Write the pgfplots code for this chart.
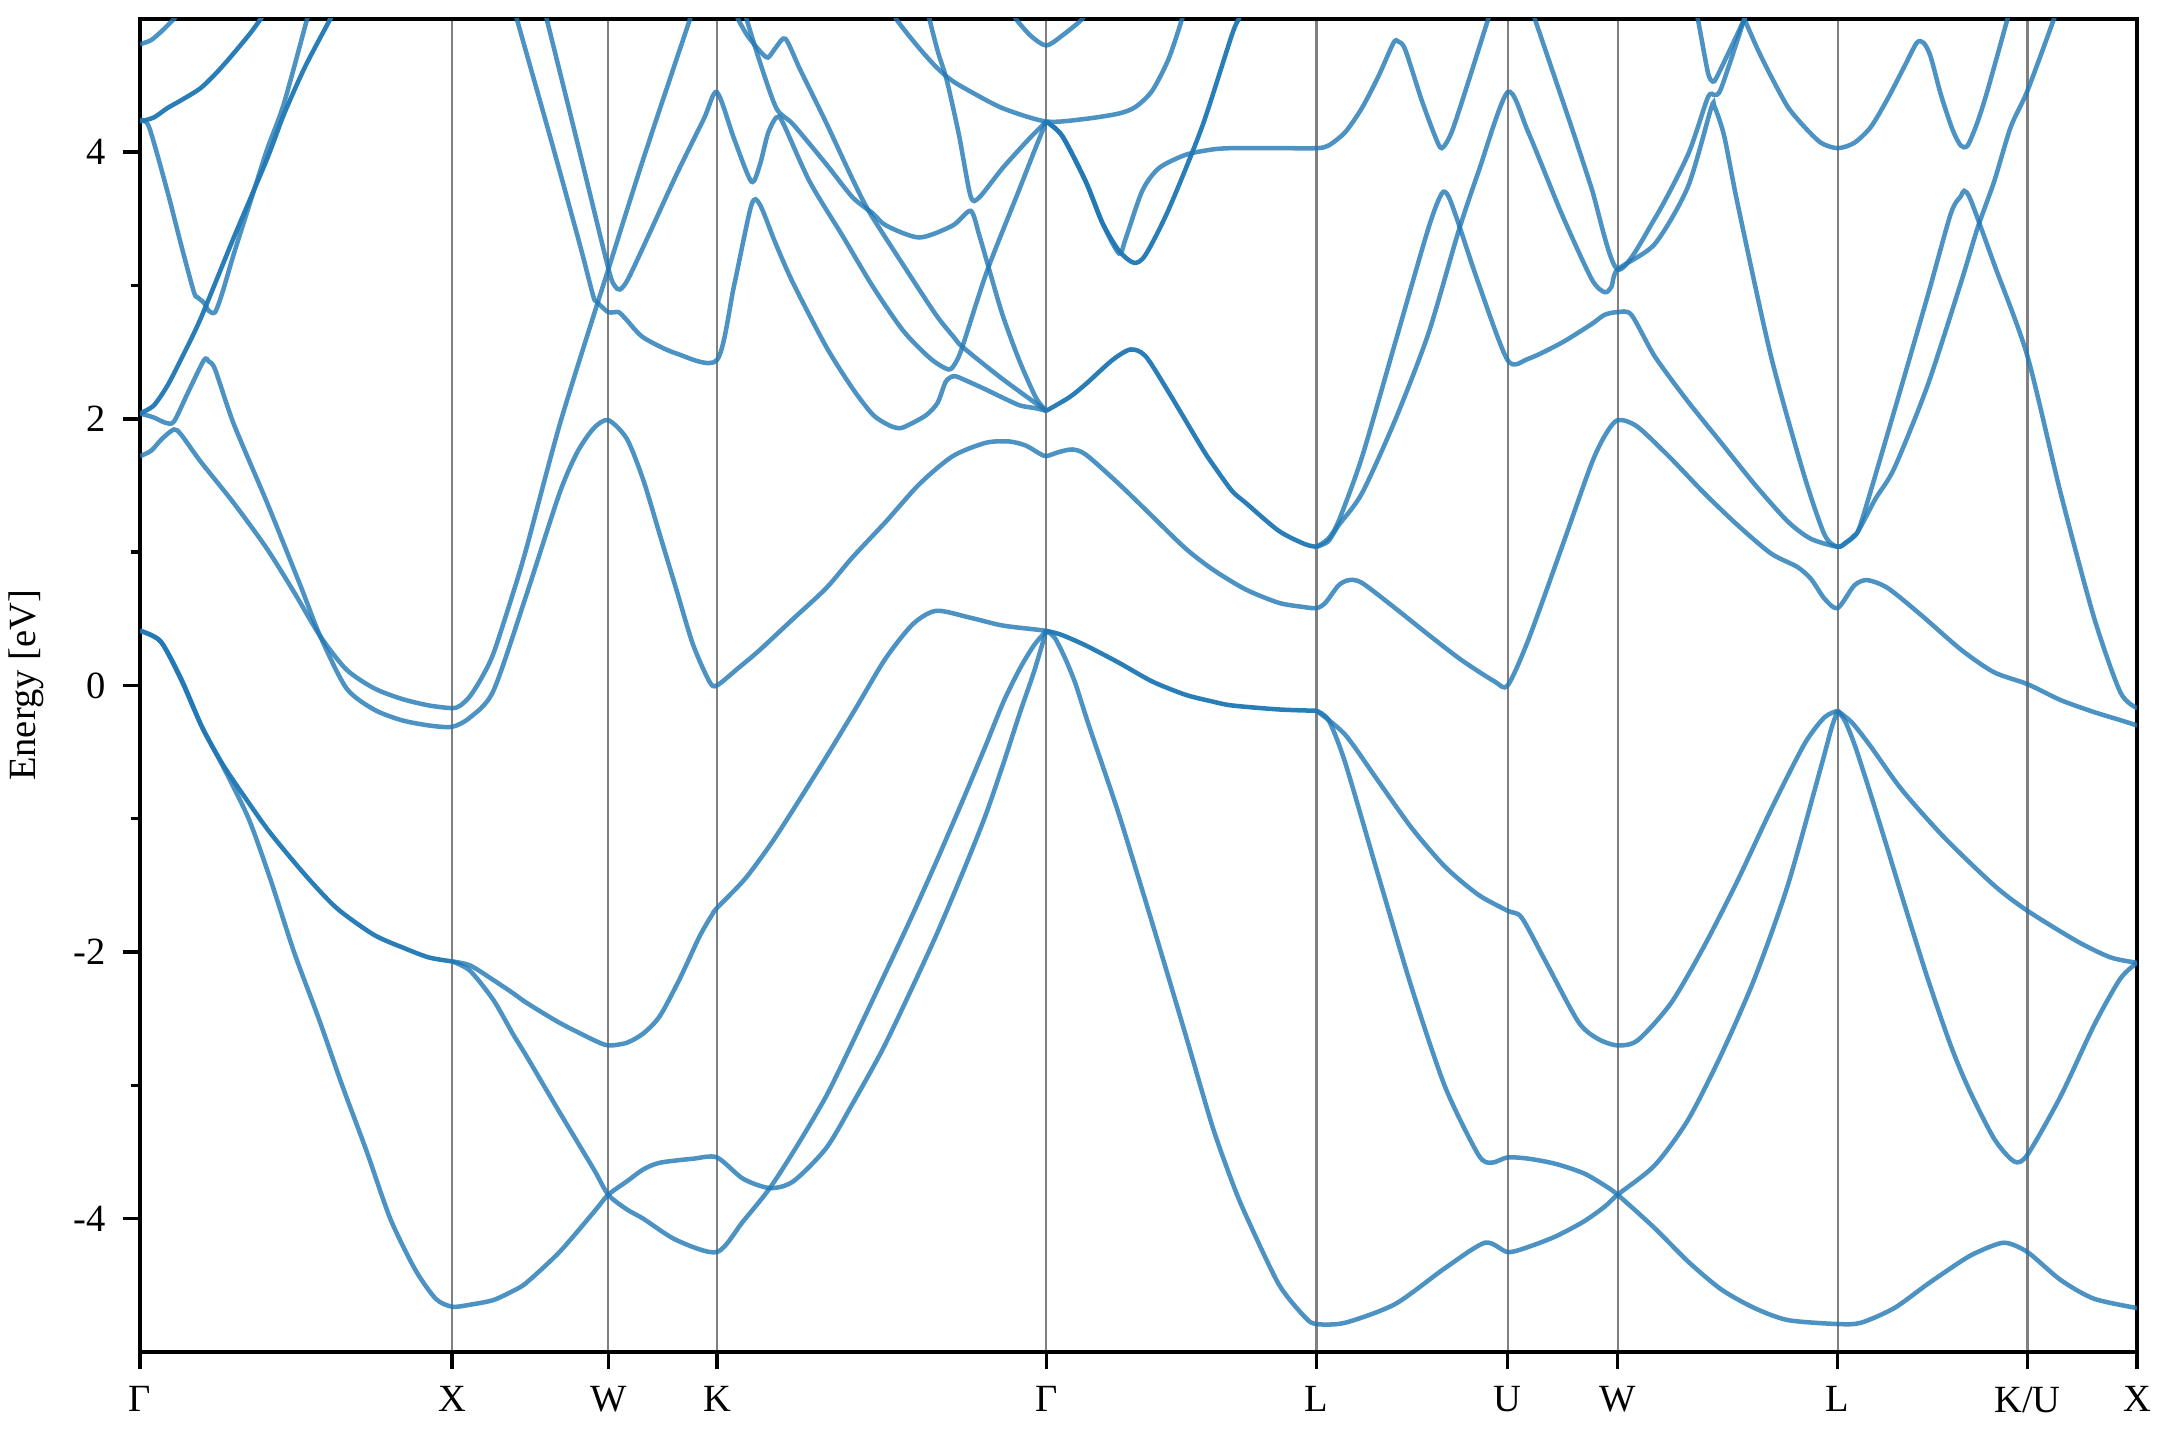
\documentclass[border=0pt]{standalone}
\usepackage{fontspec}
\setmainfont{Liberation Serif}
\usepackage{pgfplots}
\pgfplotsset{compat=1.18}
\definecolor{bandc}{HTML}{1F77B4}
\pgfplotsset{
  band/.style={color=bandc, line width=1.7pt, opacity=0.8, smooth, tension=0.45, mark=none},
  dband/.style={band, opacity=0.95},
}
\begin{document}
\begin{tikzpicture}
\begin{axis}[
  width=752pt, height=502pt, scale only axis,
  xmin=0, xmax=1452.3, ymin=-5, ymax=5,
  xtick={0,227,340.5,419.5,659,855.5,994.5,1074.5,1234.5,1372.5,1452.3},
  xticklabels={Γ,X,W,K,Γ,L,U,W,L,K/U,X},
  ytick={-4,-2,0,2,4}, yticklabels={-4,-2,0,2,4},
  minor ytick={-3,-1,1,3},
  tick align=outside, tick pos=left,
  major tick length=6.5pt, minor tick length=3.5pt,
  every tick/.append style={black, line width=1.3pt},
  axis line style={line width=1.3pt},
  xmajorgrids, grid style={black!50, line width=0.8pt},
  ticklabel style={font=\fontsize{14.5}{17}\selectfont},
  xticklabel style={yshift=-3pt},
  yticklabel style={xshift=-3pt},
  ylabel={Energy [eV]},
  ylabel style={font=\fontsize{14.5}{17}\selectfont, at={([xshift=-42.8pt]axis description cs:0,0.5)}, anchor=center},
]
% valence bands
\addplot[band] coordinates {(0,0.41) (15,0.33) (30,0.05) (45,-0.31) (60,-0.60) (79,-1.0) (95,-1.46) (112,-2.0) (130,-2.5) (147,-3.0) (165,-3.5) (182,-4.0) (200,-4.38) (215,-4.6) (227,-4.66) (240,-4.645) (257,-4.61) (271.5,-4.54) (281,-4.48) (305,-4.25) (330,-3.95) (340.5,-3.82) (354,-3.72) (366,-3.63) (378,-3.58) (402,-3.55) (419.5,-3.54) (438.5,-3.70) (458,-3.77) (475,-3.72) (499,-3.47) (518,-3.14) (540,-2.73) (560,-2.30) (580,-1.85) (600,-1.36) (615,-0.97) (628,-0.58) (640,-0.20) (650,0.10) (659,0.41)};
\addplot[dband] coordinates {(0,0.41) (15,0.33) (30,0.04) (45,-0.31) (60,-0.59) (79,-0.88) (95,-1.11) (120,-1.42) (143,-1.67) (170,-1.87) (192,-1.97) (210,-2.04) (227,-2.07)};
\addplot[band] coordinates {(227,-2.07) (240,-2.10) (257,-2.21) (271.5,-2.31) (281,-2.38) (305,-2.53) (330,-2.66) (340.5,-2.70) (354,-2.68) (366,-2.61) (378,-2.48) (392.5,-2.20) (407,-1.88) (416,-1.72) (419.5,-1.67) (440,-1.45) (460,-1.17) (480,-0.85) (500,-0.52) (520,-0.18) (542,0.20) (562,0.46) (579,0.56) (603,0.51) (627,0.45) (651,0.42) (659,0.41)};
\addplot[band] coordinates {(227,-2.07) (240,-2.14) (257,-2.36) (271.5,-2.62) (281,-2.78) (305,-3.20) (330,-3.63) (340.5,-3.82) (354,-3.93) (366,-4.0) (390,-4.16) (419.5,-4.25) (438.5,-4.02) (458,-3.77) (478,-3.45) (499,-3.08) (518,-2.68) (540,-2.20) (560,-1.76) (580,-1.30) (600,-0.82) (615,-0.45) (628,-0.12) (640,0.13) (650,0.30) (659,0.41)};
\addplot[dband] coordinates {(659,0.41) (670,0.38) (687.7,0.30) (711.9,0.17) (736,0.03) (760.3,-0.07) (779.6,-0.12) (794,-0.15) (828,-0.18) (855.5,-0.19)};
\addplot[band] coordinates {(659,0.41) (665,0.36) (672,0.22) (680,0.02) (690,-0.30) (711.9,-0.97) (736,-1.78) (760.3,-2.62) (779.6,-3.30) (794,-3.72) (804,-3.97) (828,-4.49) (847.3,-4.74) (855.5,-4.79) (876.4,-4.78) (912.7,-4.64) (949,-4.37) (978,-4.18) (994.5,-4.25) (1010,-4.21) (1030,-4.13) (1050,-4.02) (1065,-3.91) (1074.5,-3.82) (1101.4,-3.60) (1125.6,-3.26) (1149.8,-2.77) (1174,-2.20) (1198.2,-1.50) (1222.4,-0.61) (1230,-0.32) (1234.5,-0.19)};
\addplot[band] coordinates {(855.5,-0.19) (864.3,-0.26) (876.4,-0.58) (900.6,-1.43) (924.8,-2.27) (949,-3.01) (973.2,-3.52) (982.8,-3.58) (994.5,-3.54) (1010,-3.55) (1030,-3.59) (1050,-3.66) (1065,-3.75) (1074.5,-3.82) (1101.4,-4.07) (1125.6,-4.32) (1149.8,-4.53) (1174,-4.67) (1198.2,-4.76) (1234.5,-4.79) (1251.5,-4.78) (1275.7,-4.67) (1299.9,-4.49) (1324.1,-4.32) (1336.2,-4.25) (1355.5,-4.18) (1372.5,-4.25) (1396.7,-4.46) (1420.9,-4.60) (1452.3,-4.67)};
\addplot[band] coordinates {(855.5,-0.19) (876.4,-0.37) (900.6,-0.72) (924.8,-1.07) (949,-1.36) (973.2,-1.57) (994.5,-1.69) (1004.6,-1.74) (1021.6,-2.06) (1045.7,-2.52) (1060,-2.65) (1074.5,-2.70) (1089.3,-2.66) (1113.5,-2.38) (1137.7,-1.95) (1161.9,-1.46) (1186.1,-0.93) (1210.3,-0.44) (1224.8,-0.24) (1234.5,-0.19)};
\addplot[band] coordinates {(1234.5,-0.19) (1245,-0.28) (1258,-0.45) (1281,-0.78) (1312,-1.14) (1348.3,-1.50) (1372.5,-1.69) (1408.8,-1.92) (1433,-2.04) (1452.3,-2.08)};
\addplot[band] coordinates {(1234.5,-0.19) (1240,-0.27) (1247,-0.45) (1258,-0.80) (1270,-1.20) (1283,-1.64) (1300,-2.20) (1316.7,-2.70) (1330,-3.03) (1348.3,-3.40) (1362.8,-3.57) (1372.5,-3.52) (1396.7,-3.08) (1420.9,-2.55) (1440,-2.20) (1452.3,-2.08)};
% conduction bands
\addplot[band] coordinates {(0,1.72) (8,1.76) (16,1.85) (24.7,1.92) (30,1.88) (44,1.68) (68,1.37) (92,1.03) (112,0.70) (131,0.37) (150,0.12) (170,-0.02) (190,-0.10) (210,-0.15) (227,-0.17) (233,-0.15) (240,-0.08) (248,0.05) (257,0.24) (271.5,0.70) (281,1.03) (305,1.95) (330,2.78) (340.5,3.12) (366,3.95) (400,5.0) (403,5.08)};
\addplot[band] coordinates {(0,2.04) (10,2.01) (18.6,1.97) (24.7,1.98) (35,2.20) (46.5,2.44) (50,2.43) (54.6,2.37) (68.2,1.96) (92.4,1.37) (116.6,0.75) (131,0.37) (150,-0.02) (170,-0.18) (190,-0.26) (210,-0.30) (227,-0.31) (240,-0.24) (257,-0.04) (281,0.68) (305,1.44) (318,1.75) (330,1.93) (340.5,1.99) (354,1.85) (366,1.54) (378,1.13) (390,0.72) (402,0.31) (414,0.03) (419.5,0.0) (435,0.13) (450,0.26) (475,0.50) (499,0.73) (518,0.96) (542.5,1.23) (566.7,1.51) (591,1.72) (615,1.82) (632,1.83) (644,1.80) (654,1.74) (659,1.72) (668,1.75) (678,1.77) (688,1.73) (712,1.51) (736,1.27) (760,1.03) (780,0.87) (804,0.72) (828,0.62) (845,0.59) (855.5,0.58) (862,0.62) (871.5,0.75) (879,0.79) (888.5,0.77) (912.7,0.58) (937,0.38) (961,0.19) (985,0.03) (994.5,0.0) (1009.5,0.34) (1033.7,1.03) (1055,1.65) (1065,1.87) (1074.5,1.99) (1089,1.94) (1113.5,1.70) (1137.7,1.44) (1162,1.20) (1186,0.99) (1205,0.89) (1215,0.80) (1225,0.65) (1234.5,0.58) (1246.6,0.75) (1256,0.79) (1271,0.73) (1295,0.53) (1324,0.27) (1348,0.10) (1372.5,0.01) (1396.7,-0.11) (1421,-0.20) (1440,-0.26) (1452.3,-0.30)};
\addplot[dband] coordinates {(0,2.04) (10,2.10) (20,2.25) (30,2.45) (44,2.75) (68.2,3.36) (92.4,3.95) (104.5,4.28) (120,4.64) (138.4,5.0) (142,5.07)};
\addplot[band] coordinates {(0,4.24) (6.5,4.19) (19.8,3.71) (30,3.30) (39.2,2.95) (42,2.91) (46.5,2.87) (50,2.81) (54.6,2.80) (60,2.95) (68,3.23) (80,3.62) (92.4,4.02) (104.5,4.36) (121.5,5.0) (123.5,5.08)};
\addplot[dband] coordinates {(0,4.23) (10,4.26) (19.8,4.33) (30,4.39) (44,4.48) (56,4.60) (68,4.74) (80,4.89) (87.8,5.0) (93,5.08)};
\addplot[band] coordinates {(0,4.81) (8,4.84) (16,4.91) (24.7,5.0) (30,5.07)};
\addplot[band] coordinates {(272.5,5.08) (274,5.0) (300,4.05) (320,3.30) (329.6,2.92) (332,2.88) (340.5,2.80) (348,2.80) (354,2.74) (366,2.61) (390,2.49) (419.5,2.44) (432,3.0) (444.5,3.60) (450.6,3.61) (462,3.32) (474.8,3.02) (499,2.54) (518,2.23) (533,2.03) (545,1.95) (553,1.93) (562,1.97) (572,2.03) (580,2.12) (586,2.28) (592,2.32) (600,2.29) (615,2.22) (627,2.16) (640,2.10) (651,2.08) (659,2.06)};
\addplot[band] coordinates {(293.8,5.08) (295.7,5.0) (320,3.99) (340.5,3.13) (345,3.0) (349,2.97) (355,3.05) (370,3.38) (390,3.83) (410,4.25) (419.5,4.45) (432,4.10) (444.5,3.78) (450.6,3.90) (456.6,4.14) (462.7,4.26) (467.5,4.22) (486.9,3.78) (511,3.37) (533,2.99) (555,2.66) (575,2.45) (588,2.37) (593,2.42) (598,2.54) (616,3.11) (639,3.71) (650,4.0) (659,4.23)};
\addplot[band] coordinates {(432.5,5.08) (434.8,5.0) (442,4.87) (450.6,4.76) (456.6,4.71) (462.7,4.79) (469.4,4.85) (480,4.62) (499,4.22) (518,3.80) (530.4,3.55) (554.6,3.16) (578.8,2.78) (592,2.61) (598,2.54) (627,2.30) (659,2.06)};
\addplot[band] coordinates {(438,5.08) (441,5.0) (450,4.70) (462.7,4.33) (474.8,4.21) (499,3.91) (518.3,3.66) (533,3.54) (542.5,3.45) (566.7,3.36) (591,3.45) (604,3.56) (610.2,3.38) (617.5,3.12) (627.2,2.78) (639.3,2.44) (651.4,2.16) (659,2.06)};
\addplot[band] coordinates {(572.5,5.08) (574,5.0) (580,4.76) (585,4.60) (588.5,4.46) (595.7,4.12) (604,3.67) (610.2,3.66) (627.2,3.88) (646.5,4.10) (659,4.23)};
\addplot[band] coordinates {(548,5.08) (549.8,5.0) (565,4.80) (578.8,4.64) (590,4.54) (603,4.46) (627.2,4.33) (659,4.23) (687.7,4.25) (711.9,4.29) (724,4.34) (736,4.46) (748,4.70) (757.8,5.0) (760,5.08)};
\addplot[band] coordinates {(633.5,5.08) (636.9,5.0) (648,4.87) (659,4.80) (670,4.87) (685.3,5.0) (688,5.08)};
\addplot[dband] coordinates {(659,4.23) (670.7,4.12) (687.7,3.78) (699.8,3.47) (711.9,3.26) (722.8,3.17) (731.2,3.23) (748,3.57) (772.3,4.19) (794,4.88) (799,5.0) (801.5,5.08)};
\addplot[band] coordinates {(659,4.23) (670.7,4.12) (687.7,3.78) (699.8,3.47) (711.9,3.24) (716.7,3.35) (728.8,3.71) (740.9,3.88) (760.3,3.98) (779.6,4.02) (794,4.03) (830,4.03) (855.5,4.03) (864.3,4.05) (876.4,4.15) (888.5,4.33) (900.6,4.57) (911.5,4.82) (915,4.83) (920,4.77) (932,4.39) (941.7,4.12) (946.6,4.03) (953.8,4.15) (966,4.53) (980.4,5.0) (983,5.08)};
\addplot[dband] coordinates {(659,2.06) (675.6,2.16) (687.7,2.26) (707,2.44) (720.3,2.52) (731.2,2.47) (748,2.20) (772.3,1.78) (780,1.66) (794,1.46) (804,1.37) (828,1.16) (847,1.06) (855.5,1.04)};
\addplot[band] coordinates {(855.5,1.04) (864,1.10) (871.5,1.23) (888.5,1.71) (912.7,2.57) (936.9,3.43) (946.6,3.69) (951.4,3.67) (958.6,3.47) (973.2,3.02) (994.5,2.44) (1009.5,2.45) (1033.7,2.57) (1055.5,2.71) (1065,2.78) (1074.5,2.80) (1084.5,2.78) (1101.4,2.47) (1125.6,2.13) (1149.8,1.82) (1174,1.51) (1198.2,1.23) (1215,1.10) (1234.5,1.04) (1240,1.07) (1246,1.12) (1251.5,1.22) (1275.7,2.06) (1299.9,2.92) (1316.8,3.54) (1324.1,3.67) (1326.5,3.71) (1331.3,3.64) (1348.3,3.16) (1372.5,2.47) (1396.7,1.44) (1420.9,0.51) (1440,-0.05) (1452.3,-0.17)};
\addplot[band] coordinates {(855.5,1.04) (864,1.08) (871.5,1.20) (888.5,1.44) (912.7,1.99) (936.9,2.64) (958.6,3.40) (973.2,3.85) (994.5,4.45) (1009.5,4.15) (1033.7,3.54) (1055.5,3.05) (1065,2.95) (1070,2.99) (1074.5,3.12) (1101.4,3.31) (1125.6,3.74) (1142.5,4.33) (1145,4.34) (1152,4.12) (1162,3.60) (1186,2.47) (1210,1.58) (1225,1.13) (1234.5,1.04) (1242,1.08) (1249,1.15) (1262,1.40) (1275.7,1.63) (1299.9,2.25) (1324.1,3.02) (1336.2,3.43) (1348.3,3.78) (1360.4,4.19) (1372.5,4.46) (1391.8,5.0) (1394.5,5.08)};
\addplot[band] coordinates {(1012,5.08) (1014.3,5.0) (1040.9,4.19) (1055.5,3.73) (1074.5,3.12) (1101.4,3.50) (1125.6,3.98) (1140.1,4.41) (1145,4.43) (1149.8,4.48) (1166.7,5.0) (1169,5.08)};
\addplot[band] coordinates {(1130.5,5.08) (1132.8,5.0) (1140.1,4.60) (1143.7,4.53) (1147.4,4.58) (1166.7,5.0) (1169,5.08)};
\addplot[band] coordinates {(1164.5,5.08) (1166.7,5.0) (1176.4,4.77) (1186,4.57) (1198.2,4.34) (1210.3,4.19) (1222.4,4.07) (1234.5,4.03) (1246.6,4.07) (1258.7,4.19) (1270.8,4.40) (1282.9,4.64) (1292,4.82) (1297,4.82) (1302,4.72) (1309.6,4.43) (1318,4.17) (1324,4.05) (1329,4.05) (1336,4.22) (1343.4,4.46) (1358,5.0) (1360,5.08)};
\end{axis}
\path ([xshift=-51.1pt,yshift=-32.3pt]current axis.south west) rectangle ([xshift=8.6pt,yshift=7.1pt]current axis.north east);
\end{tikzpicture}
\end{document}
